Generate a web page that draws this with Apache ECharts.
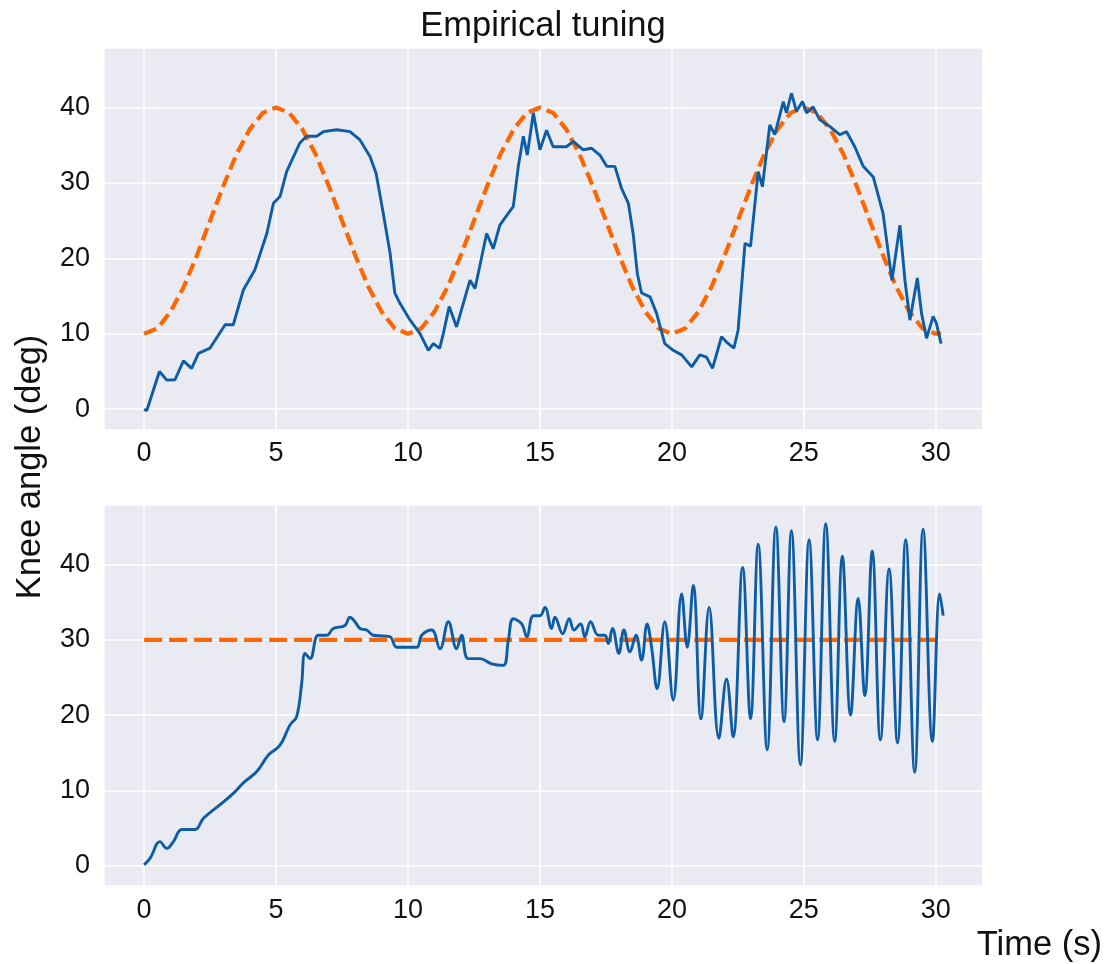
<!DOCTYPE html>
<html>
<head>
<meta charset="utf-8">
<title>Empirical tuning</title>
<script src="https://cdn.jsdelivr.net/npm/echarts@6/dist/echarts.min.js"></script>
<style>
  html, body { margin: 0; padding: 0; background: #fff; }
  #main { width: 1104px; height: 964px; }
</style>
</head>
<body>
<div id="main"></div>
<script>
// top panel: measured knee angle and the sine reference
const topTime = [0, 0.1, 0.35, 0.58, 0.86, 1.17, 1.49, 1.8, 2.06, 2.5, 3.07, 3.38, 3.76, 4.2, 4.65, 4.9, 5.15, 5.4, 5.9, 6.16,
  6.54, 6.79, 7.3, 7.8, 8.18, 8.56, 8.79, 9.06, 9.32, 9.5, 9.7, 10.08, 10.45, 10.77, 10.96, 11.2, 11.34, 11.56, 11.84, 12.35,
  12.54, 12.98, 13.23, 13.48, 13.99, 14.18, 14.37, 14.52, 14.75, 15.0, 15.25, 15.5, 16.0, 16.26, 16.64, 16.96, 17.27, 17.53, 17.84, 18.09,
  18.35, 18.53, 18.69, 18.85, 19.17, 19.42, 19.73, 20.05, 20.37, 20.75, 21.06, 21.31, 21.54, 21.88, 22.07, 22.35, 22.51, 22.77, 22.98, 23.27,
  23.43, 23.71, 23.9, 24.22, 24.34, 24.53, 24.72, 24.95, 25.1, 25.35, 25.6, 25.98, 26.36, 26.62, 26.93, 27.25, 27.63, 28.0, 28.2, 28.34,
  28.64, 28.83, 29.02, 29.3, 29.46, 29.65, 29.9, 30.02, 30.2];
const topAngle = [0, -0.2, 2.5, 5.0, 3.85, 3.9, 6.4, 5.4, 7.4, 8.1, 11.2, 11.2, 15.8, 18.5, 23.3, 27.3, 28.2, 31.5, 35.3, 36.2,
  36.2, 36.8, 37.05, 36.8, 35.7, 33.5, 31.3, 26, 20.7, 15.4, 14.0, 11.8, 10.05, 7.8, 8.7, 8.06, 10.05, 13.6, 10.9, 17.1,
  16.0, 23.3, 21.3, 24.4, 26.9, 32.2, 36.2, 33.7, 39.3, 34.4, 37.0, 34.8, 34.8, 35.5, 34.4, 34.6, 33.7, 32.2, 32.2, 29.3,
  27.3, 23.3, 18.0, 15.4, 14.9, 12.7, 8.7, 7.8, 7.2, 5.6, 7.2, 6.9, 5.4, 9.6, 8.9, 8.1, 10.5, 22.0, 21.6, 31.5,
  29.5, 37.7, 36.4, 40.8, 39.3, 41.9, 39.5, 40.8, 39.3, 40.1, 38.4, 37.5, 36.4, 36.8, 34.8, 32.2, 30.8, 26, 20.7, 17.1,
  24.4, 17.1, 11.8, 17.4, 12.7, 9.4, 12.3, 11.4, 8.7];

const refTime = [0, 0.5, 1, 1.5, 2, 2.5, 3, 3.5, 4, 4.5, 5, 5.5, 6, 6.5, 7, 7.5, 8, 8.5, 9, 9.5,
  10, 10.5, 11, 11.5, 12, 12.5, 13, 13.5, 14, 14.5, 15, 15.5, 16, 16.5, 17, 17.5, 18, 18.5, 19, 19.5,
  20, 20.5, 21, 21.5, 22, 22.5, 23, 23.5, 24, 24.5, 25, 25.5, 26, 26.5, 27, 27.5, 28, 28.5, 29, 29.5,
  30, 30.2];
const refAngle = [10, 10.7, 12.9, 16.2, 20.4, 25, 29.6, 33.8, 37.1, 39.3, 40, 39.3, 37.1, 33.8, 29.6, 25, 20.4, 16.2, 12.9, 10.7,
  10, 10.7, 12.9, 16.2, 20.4, 25, 29.6, 33.8, 37.1, 39.3, 40, 39.3, 37.1, 33.8, 29.6, 25, 20.4, 16.2, 12.9, 10.7,
  10, 10.7, 12.9, 16.2, 20.4, 25, 29.6, 33.8, 37.1, 39.3, 40, 39.3, 37.1, 33.8, 29.6, 25, 20.4, 16.2, 12.9, 10.7,
  10, 10];

// bottom panel: step to a constant 30 deg set point
const bottomTime = [0, 0.23, 0.6, 0.86, 1.11, 1.43, 1.93, 2.25, 2.88, 3.38, 3.76, 4.27, 4.71, 5.15, 5.53, 5.78, 5.97, 6.1, 6.29, 6.6,
  6.92, 7.17, 7.61, 7.8, 7.99, 8.18, 8.43, 8.69, 9.06, 9.32, 9.57, 9.95, 10.33, 10.52, 10.9, 11.21, 11.53, 11.84, 12.03, 12.28,
  12.73, 13.17, 13.61, 13.8, 13.99, 14.31, 14.5, 14.75, 15.0, 15.19, 15.44, 15.57, 15.86, 16.11, 16.29, 16.54, 16.7, 16.92, 17.21, 17.46,
  17.59, 17.75, 17.99, 18.18, 18.41, 18.64, 18.85, 19.06, 19.23, 19.44, 19.73, 20.05, 20.37, 20.58, 20.81, 21.1, 21.41, 21.78, 22.07, 22.32,
  22.68, 22.98, 23.27, 23.61, 23.94, 24.25, 24.53, 24.87, 25.2, 25.52, 25.83, 26.17, 26.46, 26.77, 27.06, 27.31, 27.59, 27.9, 28.23, 28.55,
  28.86, 29.2, 29.52, 29.87, 30.15, 30.28];
const bottomAngle = [0.1, 1.0, 3.2, 2.3, 3.2, 4.8, 4.8, 6.3, 8.1, 9.6, 11.0, 12.5, 14.7, 16.0, 18.7, 19.8, 24.2, 28.2, 27.5, 30.6,
  30.6, 31.5, 31.9, 33.0, 32.4, 31.5, 31.3, 30.6, 30.5, 30.4, 29.0, 29.0, 29.0, 30.6, 31.3, 28.8, 32.4, 28.8, 30.6, 27.5,
  27.5, 26.8, 26.6, 29.9, 32.8, 32.1, 30.4, 33.2, 33.2, 34.3, 31.5, 33.0, 30.8, 32.8, 31.3, 32.1, 30.4, 32.4, 30.6, 30.6,
  29.5, 31.5, 28.2, 31.3, 28.4, 30.6, 27.3, 32.1, 29.0, 23.5, 32.4, 22.0, 36.1, 29.0, 37.2, 19.5, 34.3, 16.9, 24.8, 17.1,
  39.6, 19.5, 42.7, 15.4, 45.0, 19.1, 44.5, 13.4, 43.3, 16.7, 45.4, 16.5, 41.1, 20.0, 35.5, 22.6, 41.8, 16.7, 39.4, 16.3,
  43.3, 12.4, 44.7, 16.5, 36.1, 33.2];

const setTime = [0, 30.2];
const setAngle = [30, 30];

const xTicks = [0, 5, 10, 15, 20, 25, 30];
const yTicks = [0, 10, 20, 30, 40];

const FONT = 'Liberation Sans, Arial, sans-serif';
const BLUE = '#0C5DA5';
const ORANGE = '#FF6600';

function pairs(xs, ys) {
  return xs.map(function (x, i) { return [x, ys[i]]; });
}

function makeX(idx) {
  return {
    type: 'value', gridIndex: idx, min: -1.52, max: 31.77, splitNumber: 5,
    axisLine: { show: false }, axisTick: { show: false },
    splitLine: { lineStyle: { color: '#fff', width: 1.6 } },
    axisLabel: {
      margin: 11, fontSize: 27, color: '#111', fontFamily: FONT,
      showMinLabel: false, showMaxLabel: false,
      formatter: function (v) { return xTicks.indexOf(v) >= 0 ? String(v) : ''; }
    }
  };
}

function makeY(idx) {
  return {
    type: 'value', gridIndex: idx, min: -2.7, max: 47.9, splitNumber: 5,
    axisLine: { show: false }, axisTick: { show: false },
    splitLine: { lineStyle: { color: '#fff', width: 1.6 } },
    axisLabel: {
      margin: 14, fontSize: 27, color: '#111', fontFamily: FONT,
      showMinLabel: false, showMaxLabel: false,
      formatter: function (v) { return yTicks.indexOf(v) >= 0 ? String(v) : ''; }
    }
  };
}

let chart = echarts.init(document.getElementById('main'), null, { renderer: 'canvas' });

let option = {
  animation: false,
  backgroundColor: '#fff',
  grid: [
    { left: 104, right: 121.5, top: 48, height: 381.5, show: true, backgroundColor: '#EAEAF2', borderWidth: 0 },
    { left: 104, right: 121.5, top: 505, height: 381, show: true, backgroundColor: '#EAEAF2', borderWidth: 0 }
  ],
  xAxis: [makeX(0), makeX(1)],
  yAxis: [makeY(0), makeY(1)],
  graphic: [
    { type: 'text', x: 543, y: 26, style: { text: 'Empirical tuning', font: '34.5px ' + FONT, fill: '#111', textAlign: 'center', textVerticalAlign: 'middle' } },
    { type: 'text', x: 1102, y: 945, style: { text: 'Time (s)', font: '34.5px ' + FONT, fill: '#111', textAlign: 'right', textVerticalAlign: 'middle' } },
    { type: 'text', x: 30, y: 467, rotation: Math.PI / 2, style: { text: 'Knee angle (deg)', font: '34.5px ' + FONT, fill: '#111', textAlign: 'center', textVerticalAlign: 'middle' } }
  ],
  series: [
    {
      type: 'line', xAxisIndex: 0, yAxisIndex: 0, data: pairs(refTime, refAngle),
      showSymbol: false, symbol: 'none', z: 2,
      lineStyle: { color: ORANGE, width: 4.2, type: [13, 6] }
    },
    {
      type: 'line', xAxisIndex: 0, yAxisIndex: 0, data: pairs(topTime, topAngle),
      showSymbol: false, symbol: 'none', z: 3,
      lineStyle: { color: BLUE, width: 2.9 }
    },
    {
      type: 'line', xAxisIndex: 1, yAxisIndex: 1, data: pairs(setTime, setAngle),
      showSymbol: false, symbol: 'none', z: 2,
      lineStyle: { color: ORANGE, width: 4.2, type: [18, 7] }
    },
    {
      type: 'line', xAxisIndex: 1, yAxisIndex: 1, data: pairs(bottomTime, bottomAngle),
      showSymbol: false, symbol: 'none', smooth: 0.4, z: 3,
      lineStyle: { color: BLUE, width: 2.9 }
    }
  ]
};

chart.setOption(option);
</script>
</body>
</html>
